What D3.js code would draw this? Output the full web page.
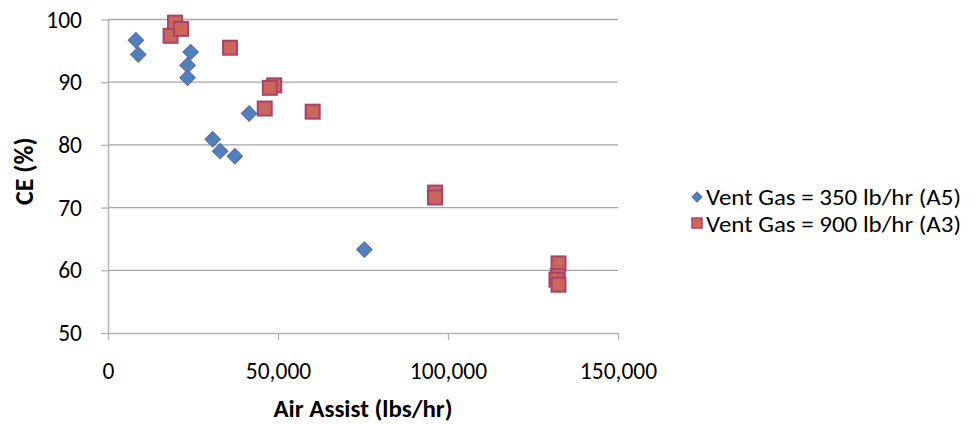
<!DOCTYPE html>
<html>
<head>
<meta charset="utf-8">
<script src="https://cdn.jsdelivr.net/npm/d3@7"></script>
<style>
  body { margin: 0; background: #fff; }
  svg { display: block; font-family: Carlito, Calibri, Lato, sans-serif; }
</style>
</head>
<body>
<div id="chart"></div>
<script>
// series: 350 lb/hr vent gas (A5)
const a5Air = [8200, 8900, 24300, 23400, 23400, 41500, 30800, 33000, 37300, 75400];
const a5CE  = [96.7, 94.4, 94.8, 92.7, 90.7, 85.0, 80.9, 79.0, 78.2, 63.3];

// series: 900 lb/hr vent gas (A3)
const a3Air = [19700, 18400, 21500, 35900, 48900, 47600, 46100, 60200, 96200, 96200, 132500, 132300, 131900, 132500];
const a3CE  = [99.5, 97.4, 98.5, 95.5, 89.5, 89.1, 85.8, 85.3, 72.4, 71.6, 61.1, 59.1, 58.5, 57.7];

const seriesNames = ["Vent Gas = 350 lb/hr (A5)", "Vent Gas = 900 lb/hr (A3)"];
const xTicks = [0, 50000, 100000, 150000];
const yTicks = [50, 60, 70, 80, 90, 100];

const width = 975, height = 424;
const margin = {left: 108, right: 357, top: 19.5, bottom: 91};

const svg = d3.select("#chart").append("svg")
  .attr("width", width)
  .attr("height", height);

const x = d3.scaleLinear().domain([0, 150000]).range([margin.left, width - margin.right]);
const y = d3.scaleLinear().domain([50, 100]).range([height - margin.bottom, margin.top]);

// horizontal gridlines
svg.append("g")
  .selectAll("line")
  .data(yTicks.slice(1))
  .join("line")
  .attr("x1", x(0)).attr("x2", x(150000))
  .attr("y1", d => y(d)).attr("y2", d => y(d))
  .attr("stroke", "#a6a6a6")
  .attr("stroke-width", 1.3);

// y axis
const yAxis = svg.append("g")
  .attr("transform", `translate(${x(0)},0)`)
  .call(d3.axisLeft(y).tickValues(yTicks).tickSize(7).tickSizeOuter(0).tickPadding(19));
yAxis.select(".domain").attr("stroke", "#b3b3b3").attr("stroke-width", 1.5);
yAxis.selectAll(".tick line").attr("stroke", "#b3b3b3").attr("stroke-width", 1.3);
yAxis.selectAll(".tick text").attr("font-size", 23.5).attr("fill", "#000")
  .attr("font-family", "Carlito, Calibri, Lato, sans-serif");

// x axis
const xAxis = svg.append("g")
  .attr("transform", `translate(0,${y(50)})`)
  .call(d3.axisBottom(x).tickValues(xTicks).tickFormat(d3.format(",")).tickSize(7).tickSizeOuter(0).tickPadding(22));
xAxis.select(".domain").attr("stroke", "#b3b3b3").attr("stroke-width", 1.5);
xAxis.selectAll(".tick line").attr("stroke", "#b3b3b3").attr("stroke-width", 1.3);
xAxis.selectAll(".tick text").attr("font-size", 23.5).attr("fill", "#000")
  .attr("font-family", "Carlito, Calibri, Lato, sans-serif");

// axis titles
svg.append("text")
  .attr("x", x(75000)).attr("y", 417)
  .attr("text-anchor", "middle")
  .attr("font-size", 25).attr("font-weight", "bold")
  .text("Air Assist (lbs/hr)");

svg.append("text")
  .attr("transform", `translate(33,${y(75) - 5}) rotate(-90)`)
  .attr("text-anchor", "middle")
  .attr("font-size", 26).attr("font-weight", "bold")
  .text("CE (%)");

const blue = {fill: "#4f81bd", stroke: "#5a6aa6"};
const red = {fill: "#cc655a", stroke: "#a8436e"};

// squares (A3)
svg.append("g")
  .selectAll("rect")
  .data(a3Air.map((v, i) => [v, a3CE[i]]))
  .join("rect")
  .attr("x", d => x(d[0]) - 7).attr("y", d => y(d[1]) - 7)
  .attr("width", 14).attr("height", 14)
  .attr("fill", red.fill).attr("stroke", red.stroke).attr("stroke-width", 2);

// diamonds (A5)
const diamond = d3.symbol().type(d3.symbolSquare).size(120);
svg.append("g")
  .selectAll("path")
  .data(a5Air.map((v, i) => [v, a5CE[i]]))
  .join("path")
  .attr("d", diamond)
  .attr("transform", d => `translate(${x(d[0])},${y(d[1])}) rotate(45)`)
  .attr("fill", blue.fill).attr("stroke", blue.stroke).attr("stroke-width", 1);

// legend
const legend = svg.append("g").attr("transform", "translate(697,0)");
legend.append("path")
  .attr("d", d3.symbol().type(d3.symbolSquare).size(50))
  .attr("transform", "translate(0,197) rotate(45)")
  .attr("fill", blue.fill).attr("stroke", blue.stroke);
legend.append("rect")
  .attr("x", -5).attr("y", 218).attr("width", 10).attr("height", 10)
  .attr("fill", red.fill).attr("stroke", red.stroke).attr("stroke-width", 1.5);
legend.selectAll("text")
  .data(seriesNames)
  .join("text")
  .attr("x", 9)
  .attr("y", (d, i) => 205 + i * 27)
  .attr("font-size", 22.5)
  .attr("textLength", 255)
  .attr("lengthAdjust", "spacingAndGlyphs")
  .text(d => d);
</script>
</body>
</html>
